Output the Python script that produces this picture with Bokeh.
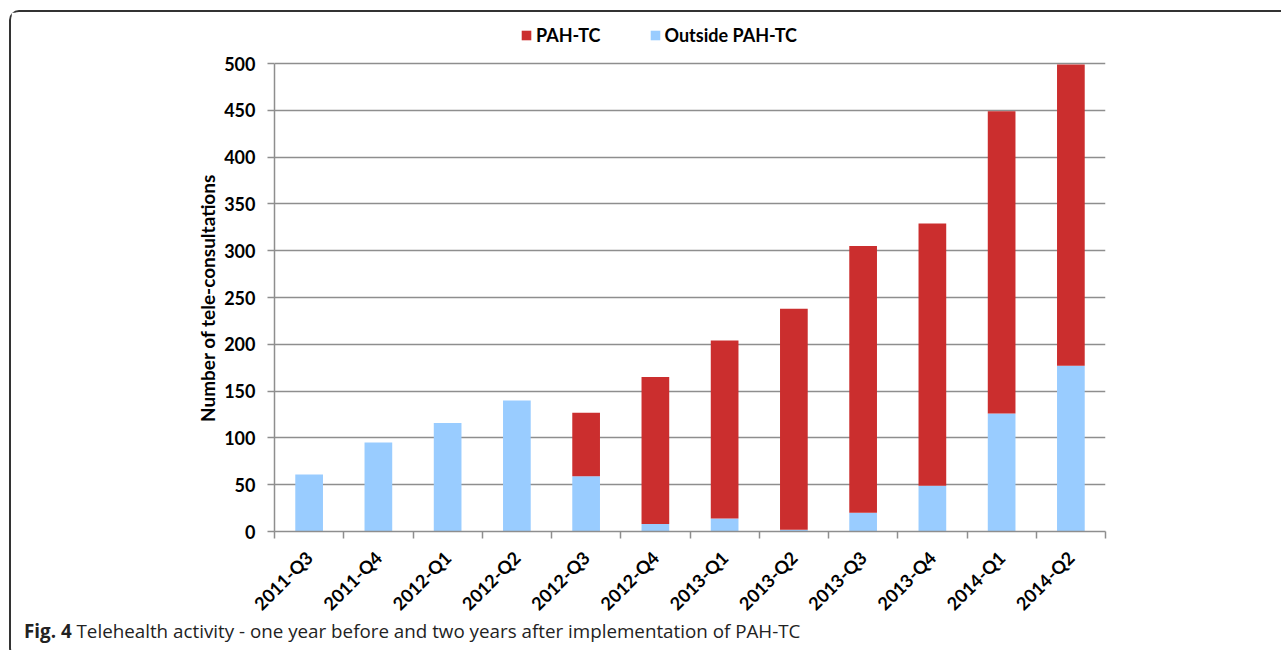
from bokeh.plotting import figure
from bokeh.layouts import column
from bokeh.models import (Range1d, FixedTicker, Legend, LegendItem, ColumnDataSource, Div, Title)
from bokeh.embed import file_html
from bokeh.resources import INLINE

quarters = ["2011-Q3", "2011-Q4", "2012-Q1", "2012-Q2", "2012-Q3", "2012-Q4",
            "2013-Q1", "2013-Q2", "2013-Q3", "2013-Q4", "2014-Q1", "2014-Q2"]
outside_pah_tc = [61, 95, 116, 140, 59, 8, 14, 2, 20, 49, 126, 177]
pah_tc = [0, 0, 0, 0, 68, 157, 190, 236, 285, 280, 323, 322]
y_ticks = list(range(0, 501, 50))

RED = "#CB2E2E"
BLUE = "#99CCFF"
GRID = "#8E8E8E"
FONT = "Lato"

# frame is extended above 500 so that the legend sits inside it
Y_MAX = 500
Y_TOP = Y_MAX * 511 / 468

positions = list(range(len(quarters)))
src = ColumnDataSource(dict(x=positions, outside=outside_pah_tc, pah=pah_tc))

p = figure(width=1270, height=613, output_backend="svg", toolbar_location=None,
           x_range=Range1d(-0.5, len(quarters) - 0.5), y_range=Range1d(0, Y_TOP),
           min_border_left=263, min_border_right=176, min_border_top=8, min_border_bottom=94)

rs = p.vbar_stack(["outside", "pah"], x="x", width=0.4, source=src,
                  color=[BLUE, RED], line_color=None)

p.outline_line_color = None
p.xgrid.grid_line_color = None
p.ygrid.grid_line_color = GRID
p.ygrid.grid_line_width = 1.5

# y axis
p.yaxis.ticker = FixedTicker(ticks=y_ticks)
p.yaxis.bounds = (0, Y_MAX)
p.yaxis.minor_tick_line_color = None
p.yaxis.major_tick_in = 0
p.yaxis.major_tick_out = 7
p.yaxis.major_tick_line_color = GRID
p.yaxis.major_tick_line_width = 1.5
p.yaxis.axis_line_color = GRID
p.yaxis.axis_line_width = 1.5
p.yaxis.major_label_standoff = 12
p.yaxis.major_label_text_font = FONT
p.yaxis.major_label_text_font_style = "bold"
p.yaxis.major_label_text_font_size = "18px"
p.yaxis.major_label_text_color = "black"

# y axis title, placed over the 0-500 span (not the extended frame)
p.add_layout(Title(text="Number of tele-consultations", align="left", offset=109.5,
                   standoff=5, text_font=FONT, text_font_style="bold",
                   text_font_size="19px", text_color="black"), "left")

# x axis: labels at centres, ticks at category boundaries
p.xaxis.ticker = FixedTicker(ticks=positions,
                             minor_ticks=[i - 0.5 for i in range(len(quarters) + 1)])
p.xaxis.major_label_overrides = {i: q for i, q in zip(positions, quarters)}
p.xaxis.major_tick_line_color = None
p.xaxis.minor_tick_in = 0
p.xaxis.minor_tick_out = 7
p.xaxis.minor_tick_line_color = GRID
p.xaxis.minor_tick_line_width = 1.5
p.xaxis.axis_line_color = GRID
p.xaxis.axis_line_width = 1.5
p.xaxis.major_label_orientation = 0.7854
p.xaxis.major_label_standoff = 16
p.xaxis.major_label_text_font = FONT
p.xaxis.major_label_text_font_style = "bold"
p.xaxis.major_label_text_font_size = "18px"
p.xaxis.major_label_text_color = "black"

legend = Legend(items=[LegendItem(label="PAH-TC", renderers=[rs[1]]),
                       LegendItem(label="Outside PAH-TC", renderers=[rs[0]])],
                orientation="horizontal", location=(246, 485),
                glyph_width=12, glyph_height=12, label_standoff=4, spacing=48,
                padding=0, margin=0, border_line_color=None, background_fill_alpha=0,
                label_text_font=FONT, label_text_font_style="bold",
                label_text_font_size="18px", label_text_color="black")
p.add_layout(legend, "center")

caption = Div(
    text=("<div style='position:relative; top:-10px'><b>Fig. 4</b> Telehealth activity - one year "
          "before and two years after implementation of PAH-TC</div>"),
    width=1270, height=21,
    styles={"font-family": "'Open Sans'", "font-size": "18.8px", "line-height": "22px",
            "color": "#222222", "padding-left": "8px", "box-sizing": "border-box"})

layout = column(p, caption, spacing=0,
                styles={"margin-left": "9px", "margin-top": "10px",
                        "border-left": "2px solid #333333", "border-top": "2px solid #333333",
                        "border-bottom": "2px solid #333333",
                        "border-top-left-radius": "10px", "border-bottom-left-radius": "10px"})

open("out.html", "w").write(file_html(layout, INLINE))
